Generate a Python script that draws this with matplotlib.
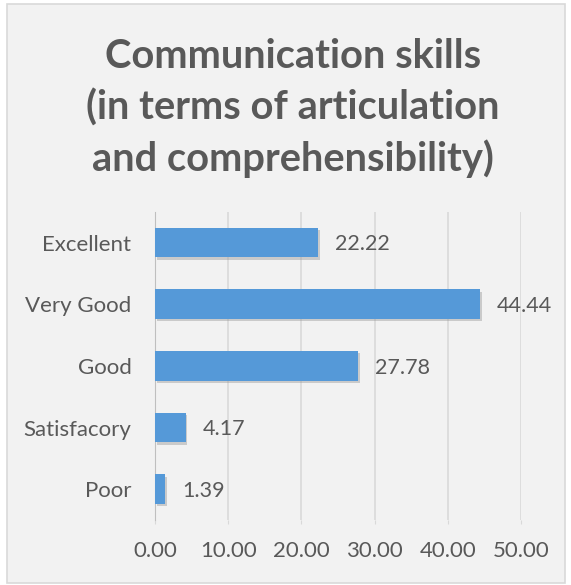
import matplotlib.pyplot as plt
from matplotlib.patches import Rectangle

categories = ['Excellent', 'Very Good', 'Good', 'Satisfacory', 'Poor']
values = [22.22, 44.44, 27.78, 4.17, 1.39]
xticks = [0, 10, 20, 30, 40, 50]

plt.rcParams['font.family'] = ['Lato', 'DejaVu Sans']
grey = '#595959'

fig = plt.figure(figsize=(5.71, 5.85), dpi=100, facecolor='white')
fig.patches.append(Rectangle((0.012, 0.004), 0.978, 0.99, transform=fig.transFigure,
                             facecolor='#f2f2f2', edgecolor='#d9d9d9', lw=1.2, zorder=-1))
ax = fig.add_axes([0.2715, 0.111, 0.641, 0.527])
ax.set_facecolor('none')

pos = list(range(len(categories)))
# soft shadow under the bars
ax.barh([p + 0.035 for p in pos], values, height=0.48, left=0.25, color='#9a9a9a', alpha=0.45, zorder=2)
ax.barh(pos, values, height=0.48, color='#5599d8', zorder=3)
for p, v in zip(pos, values):
    ax.text(v + 2.3, p + 0.03, '%.2f' % v, va='center', ha='left', fontsize=15.5, color=grey)

ax.set_xlim(0, 50)
ax.set_ylim(len(categories) - 0.5, -0.5)
ax.set_xticks(xticks)
ax.set_xticklabels(['%.2f' % t for t in xticks])
ax.set_yticks(pos)
ax.set_yticklabels(categories)
ax.tick_params(axis='x', length=3, color='#d9d9d9', labelsize=16, labelcolor=grey, pad=12)
ax.tick_params(axis='y', length=0, labelsize=16, labelcolor=grey, pad=17)
ax.grid(axis='x', color='#d9d9d9', lw=1.2, zorder=0)
ax.set_axisbelow(True)
for s in ['top', 'right', 'bottom']:
    ax.spines[s].set_visible(False)
ax.spines['left'].set_color('#bfbfbf')

fig.text(0.513, 0.815, 'Communication skills\n(in terms of articulation\nand comprehensibility)',
         ha='center', va='center', fontsize=28.7, fontweight='bold', color=grey, linespacing=1.42)

fig.savefig('out.png', dpi=100)
